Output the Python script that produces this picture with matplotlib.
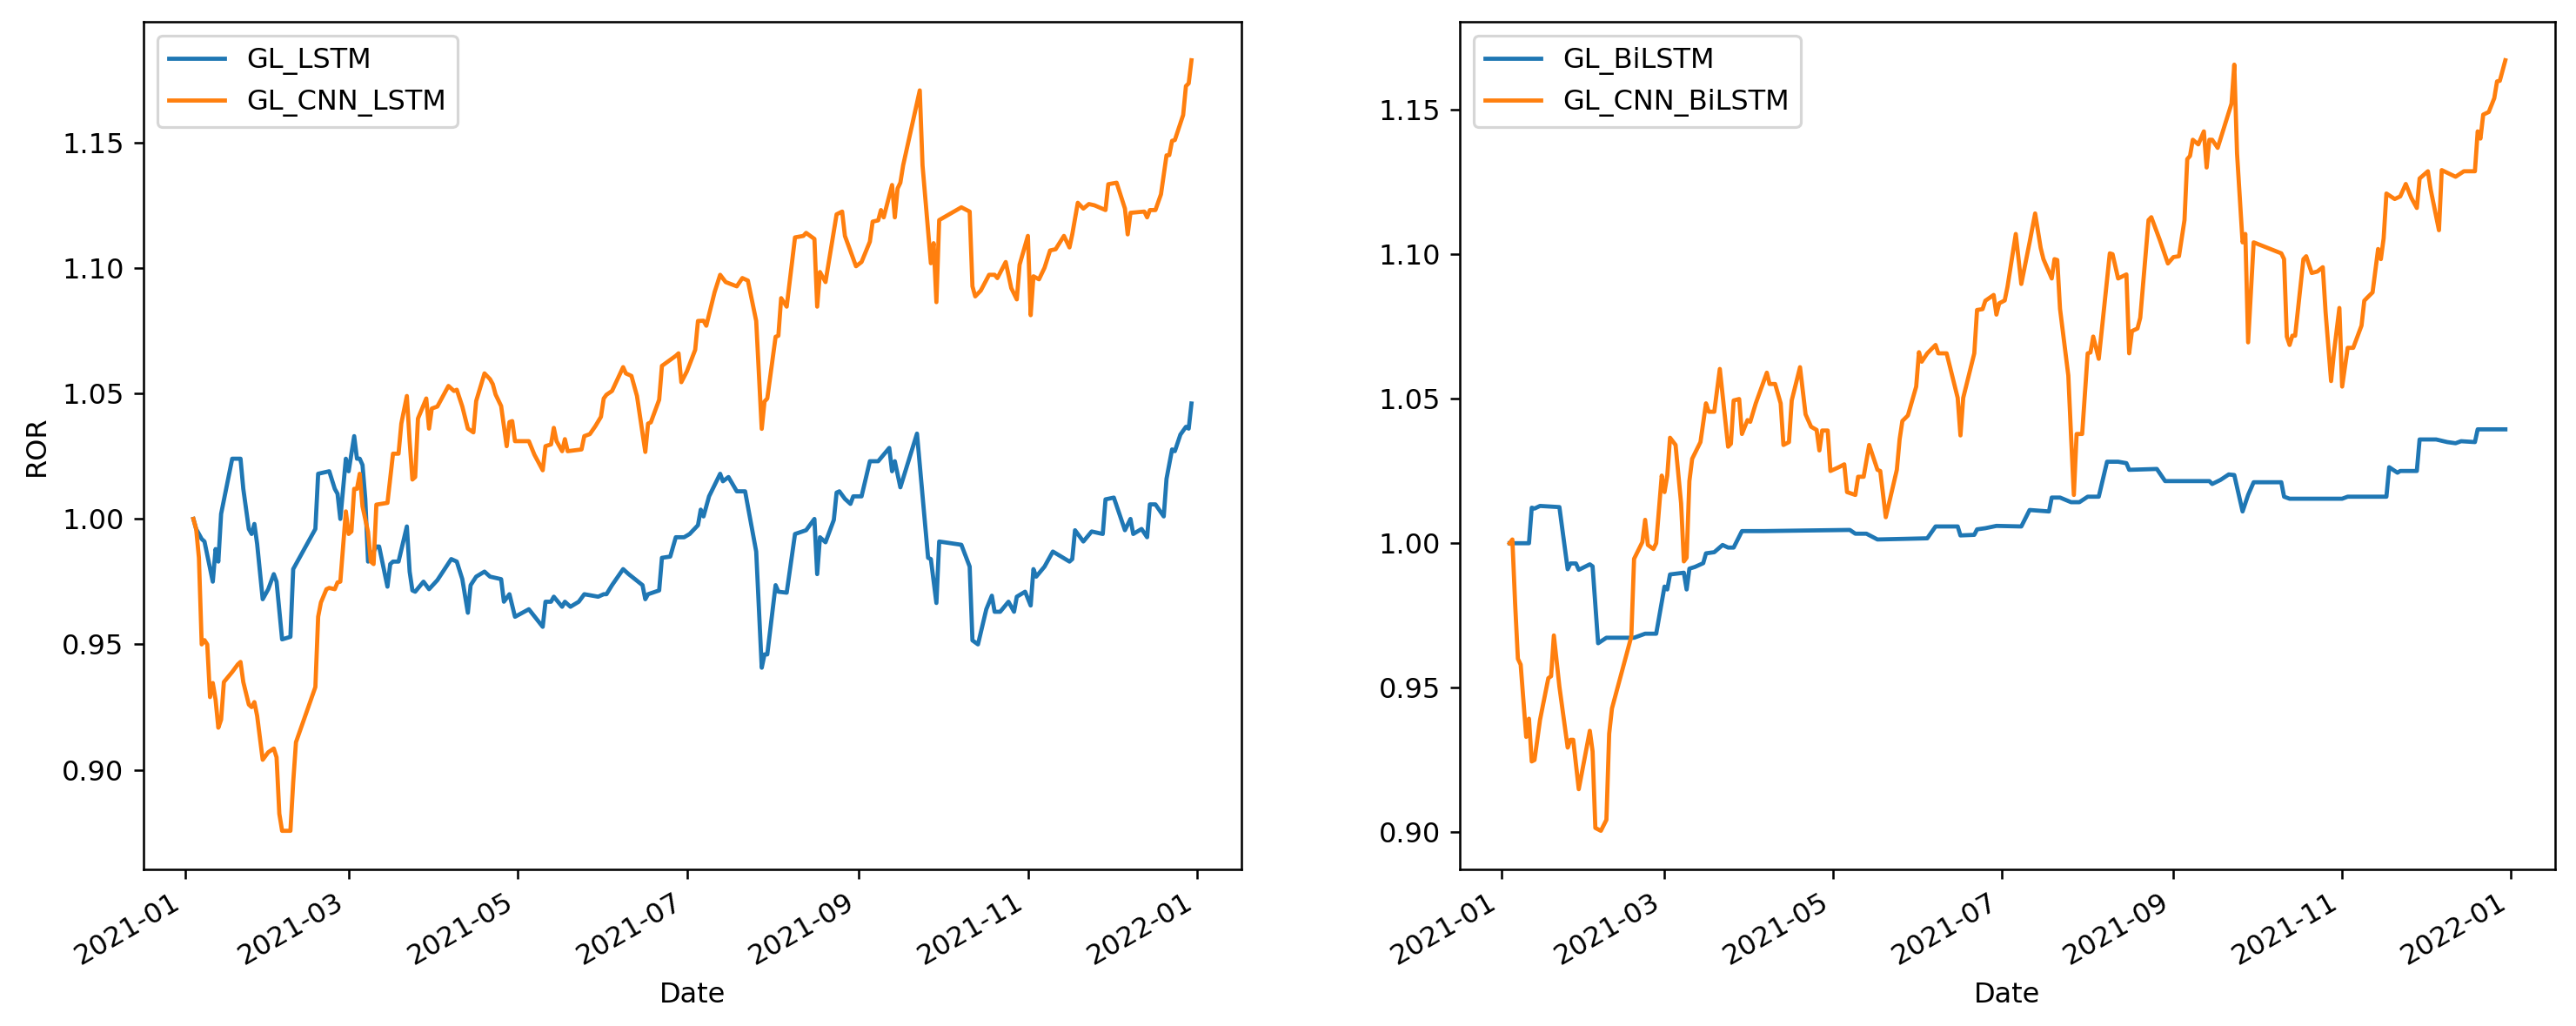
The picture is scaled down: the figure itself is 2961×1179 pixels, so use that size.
import numpy as np
import matplotlib
matplotlib.use("Agg")
import matplotlib.pyplot as plt
import matplotlib.dates as mdates

# x values are day offsets in 2021 (0 = 2021-01-01)
lstm_day = [3, 4, 6, 7, 10, 11, 12, 13, 17, 20, 21, 23, 24, 25, 26, 28, 30, 32, 33, 35,
            38, 39, 47, 48, 52, 54, 55, 56, 58, 59, 61, 62, 63, 64, 65, 66, 69, 70, 73, 74,
            75, 77, 80, 81, 82, 83, 86, 88, 91, 96, 98, 100, 102, 103, 105, 108, 110, 114, 115, 117,
            119, 124, 129, 130, 132, 133, 136, 137, 139, 142, 144, 149, 151, 152, 154, 158, 160, 165, 166, 167,
            171, 172, 175, 177, 180, 182, 185, 186, 187, 189, 193, 194, 196, 199, 202, 203, 206, 208, 209, 210,
            213, 214, 217, 220, 224, 227, 228, 229, 231, 234, 235, 236, 238, 240, 241, 244, 247, 250, 254, 255,
            256, 258, 264, 268, 269, 271, 272, 280, 283, 284, 286, 289, 291, 292, 294, 297, 299, 300, 303, 305,
            306, 307, 310, 313, 316, 319, 320, 321, 324, 327, 331, 332, 335, 339, 341, 342, 345, 347, 348, 350,
            353, 354, 356, 357, 359, 361, 362, 363]
lstm_val = [1.000, 0.996, 0.992, 0.991, 0.975, 0.988, 0.983, 1.002, 1.024, 1.024, 1.012, 0.996, 0.994, 0.998, 0.990, 0.968, 0.972, 0.978, 0.975, 0.952,
            0.953, 0.980, 0.996, 1.018, 1.019, 1.012, 1.010, 1.000, 1.024, 1.019, 1.033, 1.024, 1.024, 1.0215, 1.008, 0.983, 0.989, 0.989, 0.973, 0.982,
            0.983, 0.983, 0.997, 0.979, 0.9715, 0.971, 0.975, 0.972, 0.9756, 0.984, 0.983, 0.976, 0.9626, 0.9736, 0.977, 0.979, 0.977, 0.976, 0.967, 0.970,
            0.961, 0.964, 0.957, 0.967, 0.967, 0.969, 0.965, 0.967, 0.965, 0.967, 0.970, 0.969, 0.970, 0.970, 0.9736, 0.980, 0.978, 0.9736, 0.968, 0.970,
            0.9715, 0.9845, 0.985, 0.9927, 0.9927, 0.994, 0.9975, 1.0037, 1.001, 1.009, 1.018, 1.015, 1.0167, 1.011, 1.011, 1.005, 0.987, 0.9407, 0.946, 0.946,
            0.9736, 0.971, 0.9706, 0.994, 0.9955, 1.000, 0.978, 0.9927, 0.9907, 0.9996, 1.0105, 1.011, 1.008, 1.006, 1.009, 1.009, 1.023, 1.023, 1.0283, 1.019,
            1.023, 1.0126, 1.034, 0.9845, 0.984, 0.9665, 0.991, 0.9897, 0.981, 0.9516, 0.950, 0.964, 0.9694, 0.963, 0.963, 0.967, 0.963, 0.969, 0.971, 0.9655,
            0.980, 0.977, 0.981, 0.987, 0.985, 0.983, 0.984, 0.9955, 0.991, 0.995, 0.994, 1.0078, 1.0085, 0.9955, 1.000, 0.994, 0.996, 0.9927, 1.0058, 1.0058,
            1.001, 1.016, 1.0277, 1.027, 1.0336, 1.0367, 1.036, 1.046]

cnn_lstm_day = [3, 4, 5, 6, 7, 8, 9, 10, 11, 12, 13, 14, 17, 19, 20, 21, 23, 24, 25, 26,
                28, 30, 32, 33, 34, 35, 38, 39, 40, 47, 48, 49, 51, 52, 54, 55, 56, 58, 59, 60,
                61, 62, 63, 64, 66, 67, 68, 69, 73, 75, 77, 78, 80, 81, 82, 83, 84, 87, 88, 89,
                91, 95, 97, 98, 100, 102, 104, 105, 108, 110, 111, 112, 114, 116, 117, 118, 119, 124, 126, 129,
                130, 132, 133, 134, 136, 137, 138, 143, 144, 146, 148, 150, 151, 152, 154, 158, 159, 161, 163, 166,
                167, 168, 171, 172, 174, 177, 178, 179, 181, 184, 185, 187, 188, 191, 193, 195, 199, 201, 203, 206,
                208, 209, 210, 213, 214, 215, 217, 220, 223, 224, 227, 228, 229, 231, 235, 237, 238, 242, 244, 247,
                248, 250, 251, 252, 255, 256, 257, 258, 259, 265, 266, 269, 270, 271, 272, 280, 283, 284, 285, 287,
                290, 292, 293, 296, 298, 300, 301, 304, 305, 306, 308, 310, 312, 314, 317, 319, 320, 322, 324, 326,
                328, 332, 333, 336, 339, 340, 341, 346, 347, 348, 350, 352, 354, 355, 356, 357, 360, 361, 362, 363]
cnn_lstm_val = [1.000, 0.996, 0.9845, 0.950, 0.9517, 0.950, 0.929, 0.9346, 0.928, 0.9168, 0.920, 0.935, 0.939, 0.942, 0.943, 0.935, 0.926, 0.925, 0.927, 0.9215,
                0.904, 0.907, 0.9085, 0.905, 0.8825, 0.8757, 0.8757, 0.895, 0.911, 0.933, 0.961, 0.9667, 0.972, 0.9725, 0.972, 0.9747, 0.975, 1.003, 0.994, 0.995,
                1.012, 1.012, 1.018, 1.005, 0.9948, 0.983, 0.982, 1.0057, 1.0064, 1.026, 1.026, 1.038, 1.049, 1.031, 1.0157, 1.0167, 1.040, 1.048, 1.036, 1.044,
                1.0448, 1.053, 1.051, 1.0515, 1.0448, 1.036, 1.0345, 1.047, 1.058, 1.0557, 1.0537, 1.0496, 1.045, 1.029, 1.0386, 1.039, 1.031, 1.031, 1.0256, 1.0194,
                1.029, 1.0297, 1.0363, 1.031, 1.027, 1.0318, 1.027, 1.0277, 1.033, 1.0338, 1.037, 1.0407, 1.048, 1.0495, 1.051, 1.0605, 1.058, 1.057, 1.049, 1.0267,
                1.038, 1.0385, 1.0475, 1.061, 1.0626, 1.065, 1.066, 1.0545, 1.0588, 1.0674, 1.0789, 1.079, 1.077, 1.0904, 1.0973, 1.0944, 1.0927, 1.096, 1.095, 1.0789,
                1.0359, 1.0468, 1.048, 1.0726, 1.073, 1.088, 1.0846, 1.1122, 1.1128, 1.114, 1.1116, 1.0846, 1.0984, 1.0944, 1.1214, 1.1225, 1.1128, 1.1007, 1.1024, 1.1105,
                1.1185, 1.119, 1.1231, 1.1202, 1.1331, 1.1202, 1.1317, 1.134, 1.1409, 1.1708, 1.1409, 1.1019, 1.1099, 1.0864, 1.1191, 1.1242, 1.1225, 1.0927, 1.0887, 1.091,
                1.0973, 1.0973, 1.096, 1.1024, 1.092, 1.0875, 1.1013, 1.1128, 1.0812, 1.0967, 1.0955, 1.1001, 1.107, 1.1075, 1.1128, 1.1082, 1.1134, 1.126, 1.1237, 1.1255,
                1.125, 1.1231, 1.1334, 1.134, 1.1237, 1.1134, 1.122, 1.1225, 1.1202, 1.1231, 1.1231, 1.1294, 1.1449, 1.145, 1.1507, 1.151, 1.161, 1.1725, 1.1736, 1.1828]

bilstm_day = [3, 10, 11, 12, 14, 21, 24, 25, 27, 28, 32, 33, 35, 38, 48, 52, 56, 59, 60, 61,
              66, 67, 68, 70, 73, 74, 77, 80, 82, 84, 87, 95, 110, 126, 128, 132, 136, 154, 157, 165,
              166, 171, 172, 175, 179, 188, 191, 198, 199, 202, 206, 209, 212, 216, 219, 223, 226, 227, 237, 240,
              256, 257, 260, 263, 265, 268, 270, 272, 282, 283, 285, 304, 306, 320, 321, 324, 325, 331, 332, 338,
              342, 345, 347, 352, 353, 363]
bilstm_val = [1.000, 1.000, 1.0123, 1.012, 1.0129, 1.0125, 0.991, 0.993, 0.993, 0.9908, 0.9927, 0.992, 0.9654, 0.9673, 0.9673, 0.9687, 0.9687, 0.985, 0.984, 0.9892,
              0.9898, 0.984, 0.9912, 0.9918, 0.9931, 0.9965, 0.9969, 0.9994, 0.9985, 0.9985, 1.0042, 1.0042, 1.0044, 1.0046, 1.0033, 1.0033, 1.0013, 1.0017, 1.0058, 1.0058,
              1.0027, 1.0029, 1.0048, 1.0052, 1.006, 1.0058, 1.0115, 1.011, 1.0158, 1.0158, 1.0142, 1.0142, 1.0161, 1.0161, 1.0282, 1.0282, 1.0277, 1.0254, 1.0257, 1.0215,
              1.0215, 1.0205, 1.0219, 1.0238, 1.0236, 1.011, 1.0167, 1.0211, 1.0211, 1.0161, 1.0154, 1.0154, 1.0161, 1.0161, 1.0263, 1.0244, 1.025, 1.025, 1.0359, 1.0359,
              1.035, 1.0346, 1.0353, 1.035, 1.0394, 1.0394]

cnn_bilstm_day = [3, 4, 5, 6, 7, 9, 10, 11, 12, 14, 17, 18, 19, 21, 24, 25, 26, 28, 32, 33,
                  34, 36, 38, 39, 40, 47, 48, 51, 52, 53, 55, 56, 58, 59, 60, 61, 63, 65, 66, 67,
                  68, 69, 72, 74, 75, 77, 79, 82, 83, 84, 86, 87, 89, 90, 92, 96, 97, 99, 101, 102,
                  104, 105, 108, 110, 112, 114, 115, 116, 118, 119, 122, 124, 125, 128, 129, 131, 133, 136, 137, 139,
                  143, 144, 145, 147, 150, 151, 152, 154, 157, 158, 161, 165, 166, 167, 171, 172, 174, 175, 178, 179,
                  180, 182, 183, 186, 188, 191, 193, 195, 196, 199, 200, 201, 202, 205, 206, 207, 208, 210, 212, 213,
                  214, 216, 220, 221, 223, 226, 227, 228, 230, 231, 234, 235, 238, 241, 243, 245, 247, 248, 249, 250,
                  252, 254, 255, 256, 257, 259, 264, 265, 266, 268, 269, 270, 272, 282, 283, 284, 285, 286, 287, 290,
                  291, 293, 295, 297, 298, 300, 301, 303, 304, 306, 308, 311, 312, 313, 315, 317, 318, 319, 320, 323,
                  325, 327, 329, 331, 332, 335, 336, 339, 340, 345, 348, 352, 353, 354, 355, 357, 359, 360, 361, 363]
cnn_bilstm_val = [1.000, 1.0013, 0.979, 0.960, 0.958, 0.933, 0.9393, 0.9245, 0.925, 0.9389, 0.9533, 0.954, 0.9681, 0.9504, 0.9293, 0.932, 0.932, 0.9149, 0.9351, 0.928,
                  0.9015, 0.9005, 0.9043, 0.9341, 0.9428, 0.9677, 0.9946, 1.0004, 1.0081, 0.9994, 0.998, 1.000, 1.0234, 1.0177, 1.0234, 1.0365, 1.034, 1.0138, 0.9937, 0.995,
                  1.0215, 1.0292, 1.035, 1.0484, 1.0455, 1.0455, 1.0603, 1.0334, 1.0344, 1.0494, 1.0499, 1.0378, 1.0426, 1.042, 1.0484, 1.059, 1.0551, 1.0551, 1.0484, 1.034,
                  1.035, 1.0494, 1.0609, 1.0446, 1.0403, 1.0392, 1.0321, 1.039, 1.039, 1.025, 1.0263, 1.0273, 1.0177, 1.0167, 1.023, 1.023, 1.034, 1.0254, 1.025, 1.009,
                  1.0254, 1.0359, 1.0423, 1.0442, 1.0542, 1.0661, 1.0628, 1.0657, 1.0686, 1.0657, 1.0657, 1.0503, 1.0373, 1.0503, 1.0657, 1.0807, 1.081, 1.0839, 1.0859, 1.0791,
                  1.083, 1.084, 1.0887, 1.107, 1.0897, 1.1041, 1.1141, 1.1022, 1.0983, 1.0916, 1.0983, 1.098, 1.0811, 1.058, 1.0369, 1.0167, 1.0378, 1.0378, 1.0657, 1.066,
                  1.0715, 1.0638, 1.1003, 1.100, 1.0916, 1.093, 1.0657, 1.0734, 1.0743, 1.078, 1.1118, 1.1128, 1.1051, 1.0968, 1.099, 1.0993, 1.1118, 1.1329, 1.134, 1.1396,
                  1.138, 1.1425, 1.130, 1.1396, 1.1396, 1.1368, 1.1521, 1.1656, 1.1348, 1.1041, 1.107, 1.0695, 1.1041, 1.1003, 1.0983, 1.0715, 1.0686, 1.0718, 1.0718, 1.0983,
                  1.0993, 1.0935, 1.094, 1.0955, 1.0801, 1.0561, 1.0657, 1.0814, 1.0542, 1.0676, 1.0676, 1.0753, 1.0839, 1.0849, 1.0868, 1.1018, 1.0983, 1.1055, 1.121, 1.1191,
                  1.120, 1.1243, 1.1195, 1.116, 1.1262, 1.1287, 1.1224, 1.1083, 1.1291, 1.1268, 1.1287, 1.1287, 1.1425, 1.140, 1.1483, 1.1492, 1.154, 1.1598, 1.160, 1.1671]

panel_series = [
    [("GL_LSTM", lstm_day, lstm_val), ("GL_CNN_LSTM", cnn_lstm_day, cnn_lstm_val)],
    [("GL_BiLSTM", bilstm_day, bilstm_val), ("GL_CNN_BiLSTM", cnn_bilstm_day, cnn_bilstm_val)],
]


def to_dates(days):
    return np.datetime64("2021-01-01") + np.array(days).astype("timedelta64[D]")


dpi = 230
fig = plt.figure(figsize=(2961 / dpi, 1179 / dpi), dpi=dpi)
ax1 = fig.add_axes([0.0557, 0.1527, 0.4262, 0.8261])
ax2 = fig.add_axes([0.5667, 0.1527, 0.4252, 0.8261])

for ax, series in zip([ax1, ax2], panel_series):
    for name, days, vals in series:
        ax.plot(to_dates(days), vals, label=name)
    ax.xaxis.set_major_locator(mdates.MonthLocator(bymonth=[1, 3, 5, 7, 9, 11]))
    ax.xaxis.set_major_formatter(mdates.DateFormatter("%Y-%m"))
    for lab in ax.get_xticklabels():
        lab.set_rotation(30)
        lab.set_ha("right")
    ax.set_xlabel("Date")
    ax.legend(loc="upper left")

ax1.set_ylabel("ROR")

fig.savefig("out.png", dpi=dpi)
